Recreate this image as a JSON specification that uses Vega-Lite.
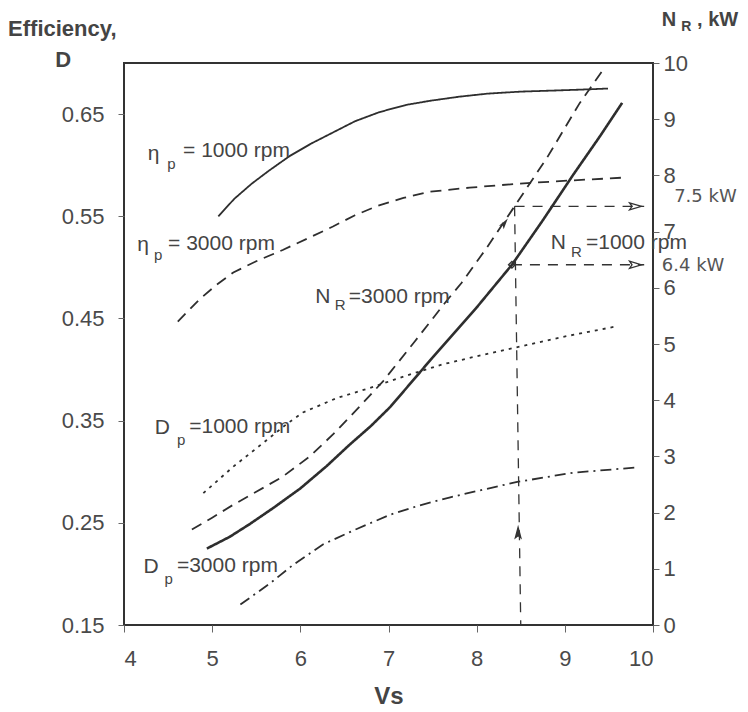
{
  "$schema": "https://vega.github.io/schema/vega-lite/v6.json",
  "width": 529,
  "height": 562,
  "autosize": {"type": "none"},
  "padding": {"left": 124, "top": 63, "right": 95, "bottom": 87},
  "background": "white",
  "config": {
    "view": {"stroke": "#333333", "strokeWidth": 2},
    "font": "Liberation Sans",
    "text": {"font": "Liberation Sans", "color": "#444444"}
  },
  "datasets": {
    "eff": [
      {"curve": "eta1000", "Vs": 5.07, "eff": 0.550},
      {"curve": "eta1000", "Vs": 5.25, "eff": 0.567},
      {"curve": "eta1000", "Vs": 5.45, "eff": 0.582},
      {"curve": "eta1000", "Vs": 5.65, "eff": 0.595},
      {"curve": "eta1000", "Vs": 5.88, "eff": 0.609},
      {"curve": "eta1000", "Vs": 6.12, "eff": 0.621},
      {"curve": "eta1000", "Vs": 6.37, "eff": 0.632},
      {"curve": "eta1000", "Vs": 6.62, "eff": 0.643},
      {"curve": "eta1000", "Vs": 6.90, "eff": 0.652},
      {"curve": "eta1000", "Vs": 7.20, "eff": 0.659},
      {"curve": "eta1000", "Vs": 7.47, "eff": 0.663},
      {"curve": "eta1000", "Vs": 7.80, "eff": 0.667},
      {"curve": "eta1000", "Vs": 8.12, "eff": 0.670},
      {"curve": "eta1000", "Vs": 8.50, "eff": 0.672},
      {"curve": "eta1000", "Vs": 8.86, "eff": 0.673},
      {"curve": "eta1000", "Vs": 9.20, "eff": 0.674},
      {"curve": "eta1000", "Vs": 9.49, "eff": 0.675},
      {"curve": "eta3000", "Vs": 4.61, "eff": 0.447},
      {"curve": "eta3000", "Vs": 4.86, "eff": 0.469},
      {"curve": "eta3000", "Vs": 5.05, "eff": 0.483},
      {"curve": "eta3000", "Vs": 5.24, "eff": 0.495},
      {"curve": "eta3000", "Vs": 5.50, "eff": 0.506},
      {"curve": "eta3000", "Vs": 5.80, "eff": 0.517},
      {"curve": "eta3000", "Vs": 6.10, "eff": 0.529},
      {"curve": "eta3000", "Vs": 6.37, "eff": 0.540},
      {"curve": "eta3000", "Vs": 6.62, "eff": 0.551},
      {"curve": "eta3000", "Vs": 6.87, "eff": 0.560},
      {"curve": "eta3000", "Vs": 7.17, "eff": 0.568},
      {"curve": "eta3000", "Vs": 7.47, "eff": 0.574},
      {"curve": "eta3000", "Vs": 7.92, "eff": 0.578},
      {"curve": "eta3000", "Vs": 8.49, "eff": 0.582},
      {"curve": "eta3000", "Vs": 9.06, "eff": 0.585},
      {"curve": "eta3000", "Vs": 9.70, "eff": 0.588},
      {"curve": "D1000", "Vs": 4.90, "eff": 0.279},
      {"curve": "D1000", "Vs": 5.24, "eff": 0.305},
      {"curve": "D1000", "Vs": 5.62, "eff": 0.331},
      {"curve": "D1000", "Vs": 5.85, "eff": 0.347},
      {"curve": "D1000", "Vs": 6.03, "eff": 0.358},
      {"curve": "D1000", "Vs": 6.41, "eff": 0.372},
      {"curve": "D1000", "Vs": 6.79, "eff": 0.382},
      {"curve": "D1000", "Vs": 7.20, "eff": 0.394},
      {"curve": "D1000", "Vs": 7.61, "eff": 0.405},
      {"curve": "D1000", "Vs": 8.00, "eff": 0.413},
      {"curve": "D1000", "Vs": 8.41, "eff": 0.421},
      {"curve": "D1000", "Vs": 8.98, "eff": 0.432},
      {"curve": "D1000", "Vs": 9.57, "eff": 0.442},
      {"curve": "D3000", "Vs": 5.32, "eff": 0.170},
      {"curve": "D3000", "Vs": 5.66, "eff": 0.191},
      {"curve": "D3000", "Vs": 5.92, "eff": 0.209},
      {"curve": "D3000", "Vs": 6.26, "eff": 0.229},
      {"curve": "D3000", "Vs": 6.64, "eff": 0.244},
      {"curve": "D3000", "Vs": 7.02, "eff": 0.258},
      {"curve": "D3000", "Vs": 7.35, "eff": 0.267},
      {"curve": "D3000", "Vs": 7.70, "eff": 0.275},
      {"curve": "D3000", "Vs": 8.10, "eff": 0.283},
      {"curve": "D3000", "Vs": 8.46, "eff": 0.290},
      {"curve": "D3000", "Vs": 9.09, "eff": 0.299},
      {"curve": "D3000", "Vs": 9.79, "eff": 0.304}
    ],
    "power": [
      {"curve": "NR1000", "Vs": 4.94, "kW": 1.36},
      {"curve": "NR1000", "Vs": 5.20, "kW": 1.57},
      {"curve": "NR1000", "Vs": 5.43, "kW": 1.80},
      {"curve": "NR1000", "Vs": 5.70, "kW": 2.09},
      {"curve": "NR1000", "Vs": 6.00, "kW": 2.43},
      {"curve": "NR1000", "Vs": 6.30, "kW": 2.83},
      {"curve": "NR1000", "Vs": 6.56, "kW": 3.21},
      {"curve": "NR1000", "Vs": 6.80, "kW": 3.54},
      {"curve": "NR1000", "Vs": 7.02, "kW": 3.88},
      {"curve": "NR1000", "Vs": 7.50, "kW": 4.76},
      {"curve": "NR1000", "Vs": 8.00, "kW": 5.65},
      {"curve": "NR1000", "Vs": 8.40, "kW": 6.41},
      {"curve": "NR1000", "Vs": 8.75, "kW": 7.20},
      {"curve": "NR1000", "Vs": 9.09, "kW": 8.00},
      {"curve": "NR1000", "Vs": 9.40, "kW": 8.70},
      {"curve": "NR1000", "Vs": 9.65, "kW": 9.29},
      {"curve": "NR3000", "Vs": 4.77, "kW": 1.70},
      {"curve": "NR3000", "Vs": 5.00, "kW": 1.91},
      {"curve": "NR3000", "Vs": 5.24, "kW": 2.14},
      {"curve": "NR3000", "Vs": 5.50, "kW": 2.37},
      {"curve": "NR3000", "Vs": 5.80, "kW": 2.64},
      {"curve": "NR3000", "Vs": 6.10, "kW": 2.99},
      {"curve": "NR3000", "Vs": 6.37, "kW": 3.39},
      {"curve": "NR3000", "Vs": 6.65, "kW": 3.85},
      {"curve": "NR3000", "Vs": 6.94, "kW": 4.34},
      {"curve": "NR3000", "Vs": 7.30, "kW": 5.05},
      {"curve": "NR3000", "Vs": 7.66, "kW": 5.77},
      {"curve": "NR3000", "Vs": 7.83, "kW": 6.09},
      {"curve": "NR3000", "Vs": 8.10, "kW": 6.68},
      {"curve": "NR3000", "Vs": 8.43, "kW": 7.45},
      {"curve": "NR3000", "Vs": 8.80, "kW": 8.32},
      {"curve": "NR3000", "Vs": 9.17, "kW": 9.29},
      {"curve": "NR3000", "Vs": 9.42, "kW": 9.85}
    ]
  },
  "encoding": {
    "x": {
      "field": "Vs",
      "type": "quantitative",
      "scale": {"domain": [4, 10], "nice": false, "zero": false},
      "axis": {
        "title": "Vs",
        "values": [4, 5, 6, 7, 8, 9, 10],
        "grid": false,
        "domain": false,
        "tickSize": 7,
        "tickColor": "#666666",
        "labelPadding": 16,
        "labelFontSize": 22,
        "labelColor": "#4a4a4a",
        "labelFont": "Liberation Sans",
        "titleFont": "Liberation Sans",
        "titleFontSize": 24,
        "titleFontWeight": "bold",
        "titleColor": "#444444",
        "titlePadding": 15
      }
    }
  },
  "layer": [
    {
      "encoding": {
        "y": {
          "field": "eff",
          "type": "quantitative",
          "scale": {"domain": [0.15, 0.7], "nice": false, "zero": false},
          "axis": {
            "title": null,
            "orient": "left",
            "values": [0.15, 0.25, 0.35, 0.45, 0.55, 0.65],
            "format": ".2f",
            "grid": false,
            "domain": false,
            "tickSize": 6,
            "tickColor": "#666666",
            "labelPadding": 14,
            "labelFontSize": 22,
            "labelColor": "#4a4a4a",
            "labelFont": "Liberation Sans"
          }
        }
      },
      "layer": [
        {
          "data": {"name": "eff"},
          "mark": {"type": "line", "color": "#2e2e2e", "strokeWidth": 1.8},
          "encoding": {
            "strokeDash": {
              "field": "curve",
              "type": "nominal",
              "scale": {"domain": ["eta1000", "eta3000", "D1000", "D3000"], "range": [[1, 0], [11, 7], [3, 5], [11, 5, 2, 5]]},
              "legend": null
            }
          }
        },
        {
          "data": {"values": [
            {"label": "η", "Vs": 4.27, "eff": 0.611},
            {"label": "= 1000 rpm", "Vs": 4.67, "eff": 0.614},
            {"label": "η", "Vs": 4.15, "eff": 0.522},
            {"label": "= 3000 rpm", "Vs": 4.50, "eff": 0.523},
            {"label": "D", "Vs": 4.35, "eff": 0.343},
            {"label": "=1000 rpm", "Vs": 4.74, "eff": 0.344},
            {"label": "D", "Vs": 4.22, "eff": 0.207},
            {"label": "=3000 rpm", "Vs": 4.60, "eff": 0.208}
          ]},
          "mark": {"type": "text", "align": "left", "baseline": "middle", "fontSize": 21},
          "encoding": {"text": {"field": "label"}}
        },
        {
          "data": {"values": [
            {"label": "p", "Vs": 4.49, "eff": 0.601},
            {"label": "p", "Vs": 4.34, "eff": 0.512},
            {"label": "p", "Vs": 4.60, "eff": 0.331},
            {"label": "p", "Vs": 4.46, "eff": 0.195}
          ]},
          "mark": {"type": "text", "align": "left", "baseline": "middle", "fontSize": 15},
          "encoding": {"text": {"field": "label"}}
        },
        {
          "data": {"values": [
            {"label": "Efficiency,", "Vs": 3.30, "eff": 0.733},
            {"label": "D", "Vs": 3.31, "eff": 0.703}
          ]},
          "mark": {"type": "text", "align": "center", "baseline": "middle", "fontSize": 22, "fontWeight": "bold"},
          "encoding": {"text": {"field": "label"}}
        }
      ]
    },
    {
      "encoding": {
        "y": {
          "field": "kW",
          "type": "quantitative",
          "scale": {"domain": [0, 10], "nice": false, "zero": false},
          "axis": {
            "title": null,
            "orient": "right",
            "values": [0, 1, 2, 3, 4, 5, 6, 7, 8, 9, 10],
            "grid": false,
            "domain": false,
            "tickSize": 6,
            "tickColor": "#666666",
            "labelPadding": 4,
            "labelFontSize": 22,
            "labelColor": "#4a4a4a",
            "labelFont": "Liberation Sans"
          }
        }
      },
      "layer": [
        {
          "data": {"name": "power"},
          "mark": {"type": "line", "color": "#2e2e2e"},
          "encoding": {
            "strokeDash": {
              "field": "curve",
              "type": "nominal",
              "scale": {"domain": ["NR1000", "NR3000"], "range": [[1, 0], [13, 8]]},
              "legend": null
            },
            "strokeWidth": {
              "field": "curve",
              "type": "nominal",
              "scale": {"domain": ["NR1000", "NR3000"], "range": [2.6, 1.8]},
              "legend": null
            }
          }
        },
        {
          "data": {"values": [
            {"part": "vertical", "Vs": 8.50, "kW": 0},
            {"part": "vertical", "Vs": 8.43, "kW": 7.45},
            {"part": "to 7.5 kW", "Vs": 8.43, "kW": 7.45},
            {"part": "to 7.5 kW", "Vs": 9.90, "kW": 7.45},
            {"part": "to 6.4 kW", "Vs": 8.40, "kW": 6.41},
            {"part": "to 6.4 kW", "Vs": 9.90, "kW": 6.41}
          ]},
          "mark": {"type": "line", "color": "#333333", "strokeWidth": 1.3, "strokeDash": [10, 8]},
          "encoding": {"detail": {"field": "part"}}
        },
        {
          "data": {"values": [{"Vs": 8.47, "kW": 1.63}]},
          "mark": {"type": "point", "shape": "M0,-1L0.45,0.7L0,0.35L-0.45,0.7Z", "size": 300, "filled": true, "color": "#333333", "opacity": 1}
        },
        {
          "data": {"values": [{"Vs": 8.31, "kW": 7.14}]},
          "mark": {"type": "point", "shape": "M0,-1L0.45,0.7L0,0.35L-0.45,0.7Z", "size": 170, "filled": true, "color": "#333333", "opacity": 1, "angle": 36}
        },
        {
          "data": {"values": [{"Vs": 9.79, "kW": 7.45}, {"Vs": 9.79, "kW": 6.41}]},
          "mark": {"type": "point", "shape": "M1,0L-0.7,-0.5L-0.35,0L-0.7,0.5Z", "size": 200, "filled": false, "color": "#333333", "strokeWidth": 1.3, "opacity": 1}
        },
        {
          "data": {"values": [{"Vs": 8.40, "kW": 6.41}]},
          "mark": {"type": "point", "shape": "diamond", "size": 45, "filled": false, "color": "#333333", "strokeWidth": 1.4, "opacity": 1}
        },
        {
          "data": {"values": [
            {"label": "N", "Vs": 6.17, "kW": 5.84},
            {"label": "=3000 rpm", "Vs": 6.55, "kW": 5.84},
            {"label": "N", "Vs": 8.84, "kW": 6.79},
            {"label": "=1000 rpm", "Vs": 9.24, "kW": 6.79}
          ]},
          "mark": {"type": "text", "align": "left", "baseline": "middle", "fontSize": 21},
          "encoding": {"text": {"field": "label"}}
        },
        {
          "data": {"values": [
            {"label": "R", "Vs": 6.39, "kW": 5.70},
            {"label": "R", "Vs": 9.07, "kW": 6.63}
          ]},
          "mark": {"type": "text", "align": "left", "baseline": "middle", "fontSize": 15},
          "encoding": {"text": {"field": "label"}}
        },
        {
          "data": {"values": [
            {"label": "N", "Vs": 10.10, "kW": 10.77},
            {"label": ", kW", "Vs": 10.50, "kW": 10.77}
          ]},
          "mark": {"type": "text", "align": "left", "baseline": "middle", "fontSize": 20, "fontWeight": "bold"},
          "encoding": {"text": {"field": "label"}}
        },
        {
          "data": {"values": [{"label": "R", "Vs": 10.32, "kW": 10.64}]},
          "mark": {"type": "text", "align": "left", "baseline": "middle", "fontSize": 14, "fontWeight": "bold"},
          "encoding": {"text": {"field": "label"}}
        },
        {
          "data": {"values": [
            {"label": "7.5 kW", "Vs": 10.24, "kW": 7.61},
            {"label": "6.4 kW", "Vs": 10.10, "kW": 6.38}
          ]},
          "mark": {"type": "text", "align": "left", "baseline": "middle", "fontSize": 18, "font": "DejaVu Sans", "color": "#555555"},
          "encoding": {"text": {"field": "label"}}
        }
      ]
    }
  ],
  "resolve": {"scale": {"y": "independent"}}
}
